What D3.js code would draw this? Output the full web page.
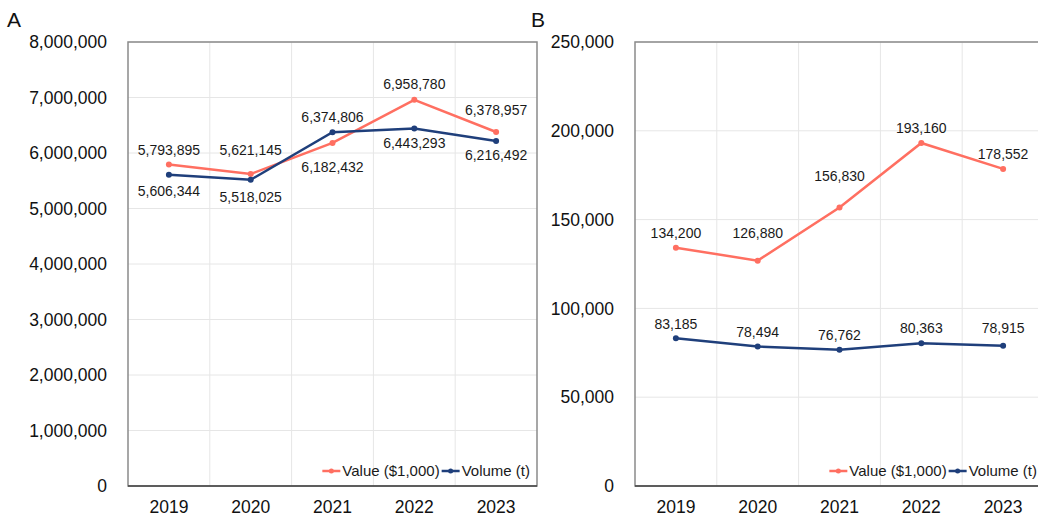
<!DOCTYPE html>
<html>
<head>
<meta charset="utf-8">
<script src="https://cdn.jsdelivr.net/npm/d3@7"></script>
<style>
  body { margin: 0; background: #fff; }
  svg { display: block; font-family: "Liberation Sans", Arial, sans-serif; }
</style>
</head>
<body>
<svg width="1038" height="518"></svg>
<script>
// data
const years = ["2019", "2020", "2021", "2022", "2023"];
const valueA = [5793895, 5621145, 6182432, 6958780, 6378957];
const volumeA = [5606344, 5518025, 6374806, 6443293, 6216492];
const valueB = [134200, 126880, 156830, 193160, 178552];
const volumeB = [83185, 78494, 76762, 80363, 78915];
const ticksA = [0, 1000000, 2000000, 3000000, 4000000, 5000000, 6000000, 7000000, 8000000];
const ticksB = [0, 50000, 100000, 150000, 200000, 250000];
const seriesNames = ["Value ($1,000)", "Volume (t)"];

// label offsets (px, baseline relative to point)
const dyA = [[-9, -19, 29, -11, -17], [21, 22, -10, 20, 19]];
const dyB = [[-10, -23, -26, -10, -10], [-9, -10, -10, -10, -13]];

const colors = ["#ff6f61", "#1f3f7b"];
const fmt = d3.format(",");

const svg = d3.select("svg");
const plotTop = 42, plotBottom = 486;

const panels = [
  { tag: "A", tagX: 7, left: 128, right: 537, ticks: ticksA, series: [valueA, volumeA], dy: dyA },
  { tag: "B", tagX: 531, left: 635, right: 1044, ticks: ticksB, series: [valueB, volumeB], dy: dyB },
];

panels.forEach((p) => {
  const g = svg.append("g");
  const x = d3.scaleBand().domain(years).range([p.left, p.right]);
  const y = d3.scaleLinear().domain([0, d3.max(p.ticks)]).range([plotBottom, plotTop]);

  // panel letter
  svg.append("text").attr("x", p.tagX).attr("y", 27)
    .attr("font-size", 21).attr("fill", "#111").text(p.tag);

  // horizontal grid
  g.append("g").selectAll("line").data(p.ticks.slice(1)).join("line")
    .attr("x1", p.left).attr("x2", p.right)
    .attr("y1", (d) => y(d)).attr("y2", (d) => y(d))
    .attr("stroke", "#e6e6e6").attr("stroke-width", 1);
  // vertical grid at band edges
  g.append("g").selectAll("line").data(years.slice(1)).join("line")
    .attr("x1", (d) => x(d)).attr("x2", (d) => x(d))
    .attr("y1", plotTop).attr("y2", plotBottom)
    .attr("stroke", "#e6e6e6").attr("stroke-width", 1);

  // frame
  g.append("rect").attr("x", p.left).attr("y", plotTop)
    .attr("width", p.right - p.left).attr("height", plotBottom - plotTop)
    .attr("fill", "none").attr("stroke", "#8a8a8a").attr("stroke-width", 1.5);
  g.append("line").attr("x1", p.left).attr("x2", p.right)
    .attr("y1", plotBottom).attr("y2", plotBottom)
    .attr("stroke", "#444").attr("stroke-width", 1.5);

  // y axis
  const yAxis = g.append("g").attr("transform", `translate(${p.left},0)`)
    .call(d3.axisLeft(y).tickValues(p.ticks).tickFormat(fmt).tickSize(0).tickPadding(21));
  yAxis.select(".domain").remove();
  yAxis.selectAll("text").attr("font-size", 17.5).attr("fill", "#111")
    .attr("font-family", "Liberation Sans, Arial, sans-serif");

  // x axis
  const xAxis = g.append("g").attr("transform", `translate(0,${plotBottom})`)
    .call(d3.axisBottom(x).tickSize(0).tickPadding(0));
  xAxis.select(".domain").remove();
  xAxis.selectAll("text").attr("font-size", 17.5).attr("fill", "#111")
    .attr("dy", null).attr("y", 27)
    .attr("font-family", "Liberation Sans, Arial, sans-serif");

  const cx = (i) => x(years[i]) + x.bandwidth() / 2;
  const line = d3.line().x((d, i) => cx(i)).y((d) => y(d));

  p.series.forEach((s, k) => {
    g.append("path").datum(s).attr("d", line)
      .attr("fill", "none").attr("stroke", colors[k]).attr("stroke-width", 2.5);
    g.append("g").selectAll("circle").data(s).join("circle")
      .attr("cx", (d, i) => cx(i)).attr("cy", (d) => y(d)).attr("r", 3)
      .attr("fill", colors[k]);
    g.append("g").selectAll("text").data(s).join("text")
      .attr("x", (d, i) => cx(i)).attr("y", (d, i) => y(d) + p.dy[k][i])
      .attr("text-anchor", "middle").attr("font-size", 14).attr("fill", "#1a1a1a")
      .text((d) => fmt(d));
  });

  // legend, right aligned inside the frame
  const leg = g.append("g");
  let xr = p.right - 7;
  for (let k = seriesNames.length - 1; k >= 0; k--) {
    const t = leg.append("text").attr("y", 476).attr("font-size", 15)
      .attr("fill", "#1a1a1a").text(seriesNames[k]);
    const w = t.node().getComputedTextLength();
    t.attr("x", xr - w);
    const lx2 = xr - w - 2, lx1 = lx2 - 18;
    leg.append("line").attr("x1", lx1).attr("x2", lx2).attr("y1", 471).attr("y2", 471)
      .attr("stroke", colors[k]).attr("stroke-width", 2.5);
    leg.append("circle").attr("cx", (lx1 + lx2) / 2).attr("cy", 471).attr("r", 2.5)
      .attr("fill", colors[k]);
    xr = lx1 - 2;
  }
});
</script>
</body>
</html>
